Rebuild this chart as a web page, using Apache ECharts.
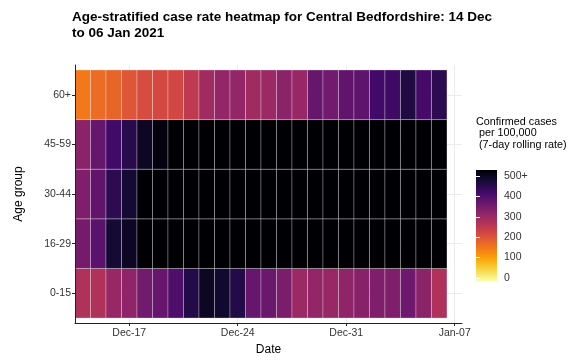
<!DOCTYPE html>
<html>
<head>
<meta charset="utf-8">
<script src="https://cdn.jsdelivr.net/npm/echarts@6/dist/echarts.min.js"></script>
<style>html,body{margin:0;padding:0;background:#fff}#c{width:571px;height:361px}</style>
</head>
<body>
<div id="c"></div>
<script>
// ---- data ----
const dates = ['2020-12-14','2020-12-15','2020-12-16','2020-12-17','2020-12-18','2020-12-19','2020-12-20','2020-12-21','2020-12-22','2020-12-23','2020-12-24','2020-12-25','2020-12-26','2020-12-27','2020-12-28','2020-12-29','2020-12-30','2020-12-31','2021-01-01','2021-01-02','2021-01-03','2021-01-04','2021-01-05','2021-01-06'];
const ageGroups = ['0-15','16-29','30-44','45-59','60+'];
// rates per 100,000 (7-day rolling); 500 = "500+" (capped)
const rate0_15  = [265,265,295,305,340,355,385,435,470,460,435,355,350,330,290,300,295,305,315,325,325,345,310,265];
const rate16_29 = [335,370,455,470,500,500,500,500,500,500,500,500,500,500,500,500,500,500,500,500,500,500,500,500];
const rate30_44 = [325,360,425,455,500,500,500,500,500,500,500,500,500,500,500,500,500,500,500,500,500,500,500,500];
const rate45_59 = [310,355,400,430,470,490,500,500,500,500,500,500,500,500,500,500,500,500,500,500,500,500,500,500];
const rate60p   = [150,165,175,195,210,215,220,245,285,300,300,285,290,310,295,355,340,360,365,400,405,440,395,425];
const xTickDays = [3,10,17,24];
const xTickLabels = ['Dec-17','Dec-24','Dec-31','Jan-07'];
const legendTicks = [0,100,200,300,400,500];

const rateRows = [rate0_15, rate16_29, rate30_44, rate45_59, rate60p];
const t0 = Date.parse(dates[0]);
const dayIdx = dates.map(d => Math.round((Date.parse(d) - t0) / 86400000));
const cells = [];
rateRows.forEach((row, g) => row.forEach((v, i) => cells.push([dayIdx[i], g + 1, v])));

// inferno, reversed (0 -> light yellow, 500 -> black)
const inferno = ['#fcffa4','#f6d746','#fca50a','#f37819','#dd513a','#bc3754','#932667','#6a176e','#420a68','#160b39','#000004'];

const chart = echarts.init(document.getElementById('c'), null, {renderer:'canvas'});
const fontFam = '"Liberation Sans", Arial, sans-serif';
const option = {
  animation: false,
  backgroundColor: '#fff',
  textStyle: {fontFamily: fontFam},
  title: {
    text: 'Age-stratified case rate heatmap for Central Bedfordshire: 14 Dec\nto 06 Jan 2021',
    left: 67, top: 4,
    textStyle: {fontSize: 13.5, fontWeight: 'bold', color: '#000', lineHeight: 16, fontFamily: fontFam}
  },
  grid: [
    {left: 75, right: 109, top: 65, bottom: 35},
    {left: 476, top: 176, width: 21, height: 102}
  ],
  visualMap: {
    type: 'continuous', show: false, min: 0, max: 500, dimension: 2, seriesIndex: 0,
    inRange: {color: inferno},
    outOfRange: {color: ['#000004']}
  },
  xAxis: [
    {gridIndex: 0, type: 'value', min: -0.5, max: 24.47, position: 'bottom', z: 0,
     axisLine: {show: false}, axisTick: {show: false, customValues: xTickDays}, axisLabel: {show: false, customValues: xTickDays},
     splitLine: {show: true, lineStyle: {color: '#ebebeb', width: 1}}},
    {gridIndex: 0, type: 'value', min: -0.5, max: 24.47, position: 'bottom', z: 5,
     name: 'Date', nameLocation: 'middle', nameGap: 21,
     nameTextStyle: {fontSize: 12, color: '#000', fontFamily: fontFam},
     axisLine: {show: true, onZero: false, lineStyle: {color: '#222', width: 1}},
     axisTick: {show: true, length: 3, lineStyle: {color: '#222'}, customValues: xTickDays},
     axisLabel: {show: true, margin: 5, fontSize: 10.5, color: '#333', customValues: xTickDays,
       formatter: v => xTickLabels[xTickDays.indexOf(Math.round(v))] || ''},
     splitLine: {show: false}},
    {gridIndex: 1, type: 'value', min: 0, max: 1, show: false}
  ],
  yAxis: [
    {gridIndex: 0, type: 'value', min: 0.4, max: 5.6, position: 'left', z: 0,
     axisLine: {show: false}, axisTick: {show: false, customValues: [1,2,3,4,5]}, axisLabel: {show: false, customValues: [1,2,3,4,5]},
     splitLine: {show: true, lineStyle: {color: '#ebebeb', width: 1}}},
    {gridIndex: 0, type: 'value', min: 0.4, max: 5.6, position: 'left', z: 5,
     name: 'Age group', nameLocation: 'middle', nameGap: 50, nameRotate: 90,
     nameTextStyle: {fontSize: 12, color: '#000', fontFamily: fontFam},
     axisLine: {show: true, onZero: false, lineStyle: {color: '#222', width: 1}},
     axisTick: {show: true, length: 3, lineStyle: {color: '#222'}, customValues: [1,2,3,4,5]},
     axisLabel: {show: true, margin: 4, fontSize: 10.5, color: '#333', customValues: [1,2,3,4,5],
       formatter: v => ageGroups[Math.round(v) - 1] || ''},
     splitLine: {show: false}},
    {gridIndex: 1, type: 'value', min: 0, max: 500, position: 'right', z: 10,
     axisLine: {show: false},
     axisTick: {show: true, inside: true, length: 4, lineStyle: {color: '#fff', width: 1}, customValues: legendTicks},
     axisLabel: {show: true, margin: 7, fontSize: 10.5, color: '#333', customValues: legendTicks,
       formatter: v => (v >= 500 ? '500+' : String(v))},
     splitLine: {show: false}},
    {gridIndex: 1, type: 'value', min: 0, max: 500, position: 'left', z: 10,
     axisLine: {show: false},
     axisTick: {show: true, inside: true, length: 4, lineStyle: {color: '#fff', width: 1}, customValues: legendTicks},
     axisLabel: {show: false}, splitLine: {show: false}}
  ],
  graphic: [
    {type: 'text', left: 476, top: 116, z: 10,
     style: {text: 'Confirmed cases\n per 100,000\n (7-day rolling rate)', font: '10.8px ' + fontFam, fill: '#000', lineHeight: 11.5}}
  ],
  series: [
    {
      type: 'custom', xAxisIndex: 0, yAxisIndex: 0, z: 2,
      encode: {x: 0, y: 1},
      data: cells,
      renderItem: function (params, api) {
        const x = api.value(0), y = api.value(1);
        const p0 = api.coord([x - 0.5, y + 0.5]);
        const p1 = api.coord([x + 0.5, y - 0.5]);
        return {type: 'rect',
          shape: {x: p0[0], y: p0[1], width: p1[0] - p0[0], height: p1[1] - p0[1]},
          style: {fill: api.visual('color'), stroke: 'rgba(255,255,255,0.28)', lineWidth: 1}};
      }
    },
    {
      type: 'custom', xAxisIndex: 2, yAxisIndex: 2, z: 2, clip: false, silent: true,
      data: [[0]],
      renderItem: function (params, api) {
        const p0 = api.coord([0, 529]);
        const p1 = api.coord([1, -15]);
        const stops = inferno.slice().reverse().map((c, i, a) => ({offset: i / (a.length - 1), color: c}));
        return {type: 'rect',
          shape: {x: p0[0], y: p0[1], width: p1[0] - p0[0], height: p1[1] - p0[1]},
          style: {fill: new echarts.graphic.LinearGradient(0, 0, 0, 1, stops)}};
      }
    }
  ]
};
chart.setOption(option);
</script>
</body>
</html>
